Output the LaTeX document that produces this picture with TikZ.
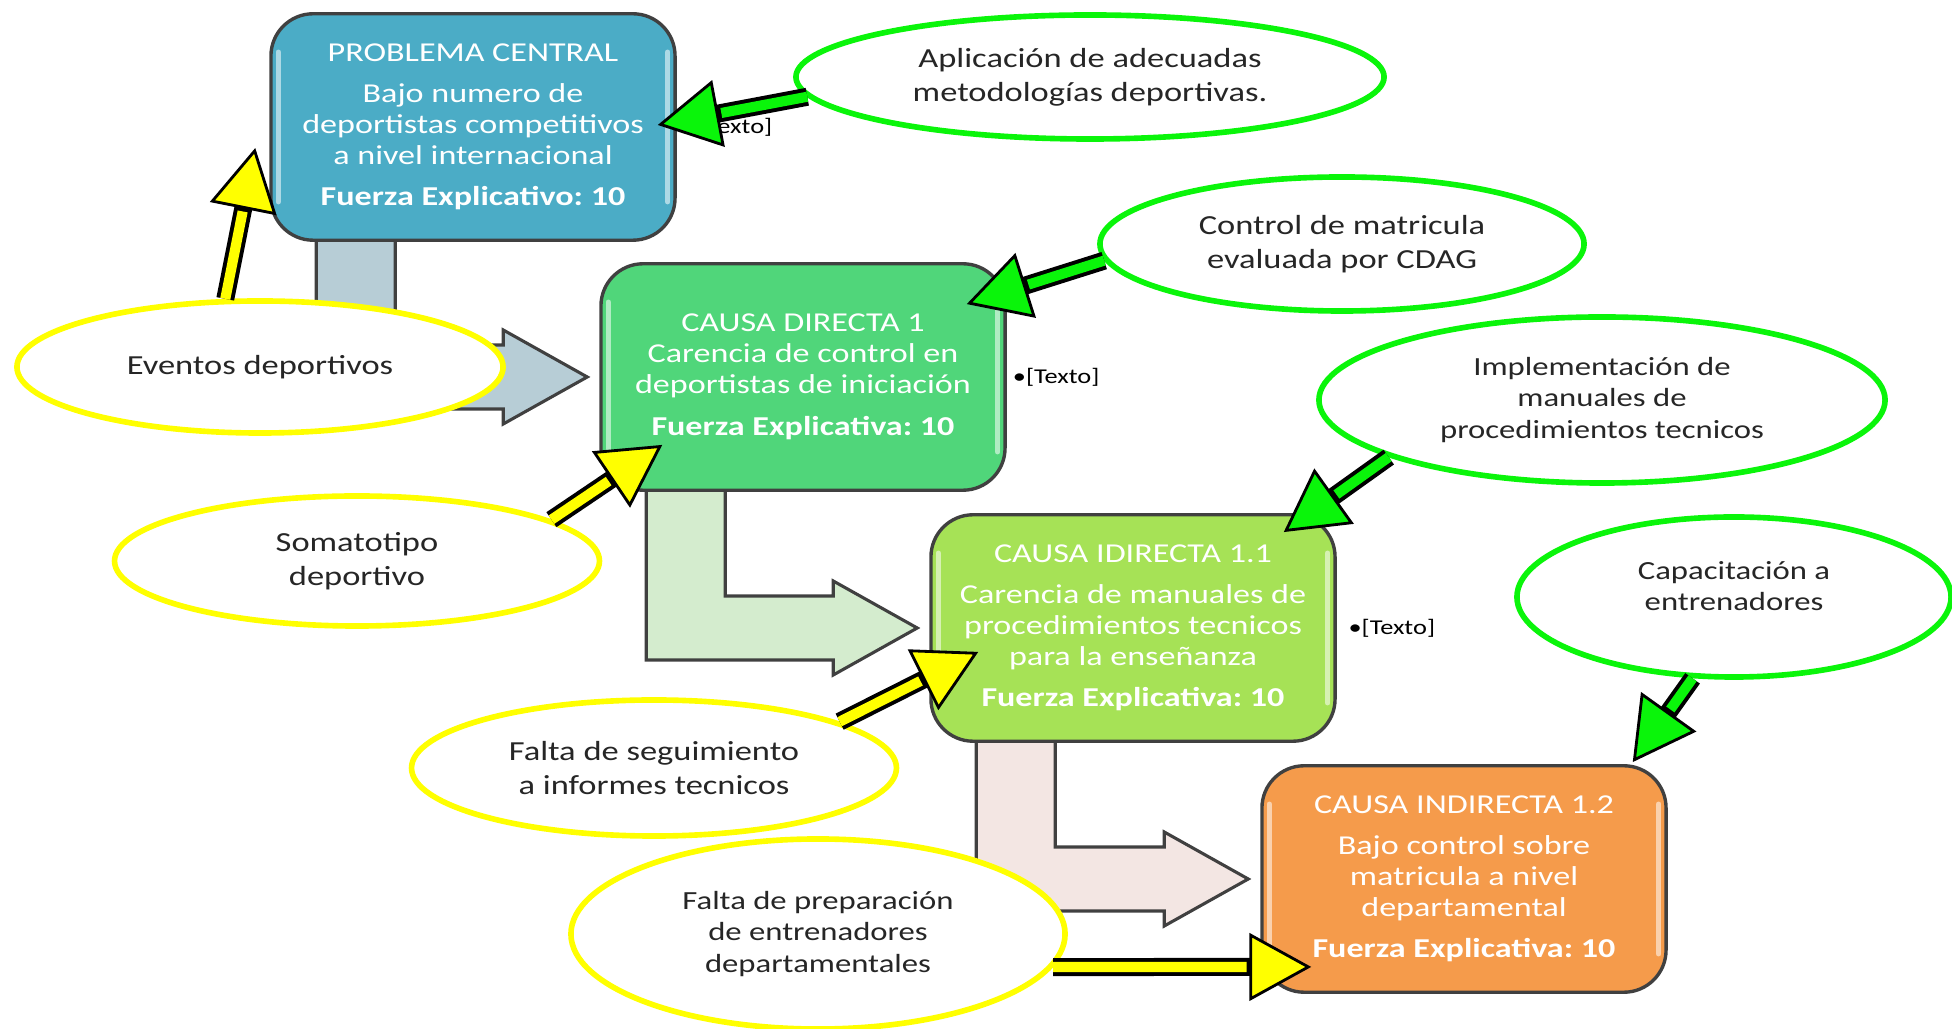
\documentclass[tikz,border=0pt]{standalone}
\usepackage{fontspec}
\setmainfont{Carlito}[FakeStretch=1.25]
\usetikzlibrary{arrows.meta,positioning,calc,shapes.geometric,backgrounds}

\definecolor{problema}{RGB}{75,172,198}
\definecolor{directa}{RGB}{80,214,122}
\definecolor{idirecta}{RGB}{166,226,86}
\definecolor{indirecta}{RGB}{245,155,75}
\definecolor{bloque1}{RGB}{183,205,214}
\definecolor{bloque2}{RGB}{212,236,206}
\definecolor{bloque3}{RGB}{243,230,227}
\definecolor{verde}{RGB}{10,245,10}
\definecolor{amarillo}{RGB}{255,255,0}

\tikzset{
caja/.style={draw=black!75,line width=1.2pt,rounded corners=15pt,text=white,align=center,minimum width=5.05cm,minimum height=2.83cm,inner sep=2pt,font=\fontsize{9.7}{11}\selectfont},
brillo/.style={draw=white,opacity=0.55,line width=1.8pt},
bloque/.style={draw=black!75,line width=1.1pt},
idea/.style={ellipse,draw=#1,line width=2pt,fill=white,text=black!85,align=center,inner sep=0pt,font=\fontsize{9.8}{12}\selectfont},
texto/.style={inner sep=0pt,font=\fontsize{7.5}{9}\selectfont},
flecha/.style={draw=black,line width=6.4pt,line cap=butt,-{Triangle[length=22pt,width=24pt,line width=1pt,fill=#1]},postaction={draw=#1,line width=3.6pt,-,shorten >=23pt}}
}

\begin{document}
\frenchspacing
\begin{tikzpicture}[line cap=round,line join=round,x=0.0125cm,y=-0.0125cm]
\useasboundingbox (0,0) rectangle (1952,1029);
% cajas
\node[caja,fill=problema] (b1) at (473,127) {PROBLEMA CENTRAL\\[3.5pt]Bajo numero de\\deportistas competitivos\\a nivel internacional\\[3.5pt]\textbf{Fuerza Explicativo: 10}};
\node[caja,fill=directa] (b2) at (803,377) {CAUSA DIRECTA 1\\Carencia de control en\\deportistas de iniciación\\[4pt]\textbf{Fuerza Explicativa: 10}};
\node[caja,fill=idirecta] (b3) at (1133,628) {CAUSA IDIRECTA 1.1\\[3.5pt]Carencia de manuales de\\procedimientos tecnicos\\para la enseñanza\\[3.5pt]\textbf{Fuerza Explicativa: 10}};
\node[caja,fill=indirecta] (b4) at (1464,879) {CAUSA INDIRECTA 1.2\\[3.5pt]Bajo control sobre\\matricula a nivel\\departamental\\[3.5pt]\textbf{Fuerza Explicativa: 10}};
\foreach \b in {b1,b2,b3,b4}{
\draw[brillo] ([shift={(9,40)}]\b.north west) -- ([shift={(9,-40)}]\b.south west);
\draw[brillo] ([shift={(-9,40)}]\b.north east) -- ([shift={(-9,-40)}]\b.south east);
}
% flechas de bloque
\begin{scope}[on background layer]
\foreach \a/\b/\c in {b1/b2/bloque1,b2/b3/bloque2,b3/b4/bloque3}{
\coordinate (s) at ($(\a.south west)+(47,-20)$);
\coordinate (t) at ($(\b.west)+(-12,0)$);
\draw[bloque,fill=\c] (s) -- ++(79,0) |- ($(t)+(-84,-32)$) -- ++(0,-15) -- (t) -- ($(t)+(-84,47)$) -- ++(0,-15) -| (s) -- cycle;
}
\end{scope}
\node[texto,right=3pt of b1] (tx1) {•[Texto]};
\node[texto,right=2pt of b2] (tx2) {•[Texto]};
\node[texto,right=4pt of b3] (tx3) {•[Texto]};
% ideas
\node[idea=verde,minimum width=7.35cm,minimum height=1.55cm] (g1) at (1090,77) {Aplicación de adecuadas\\metodologías deportivas.};
\node[idea=verde,minimum width=6.05cm,minimum height=1.675cm] (g2) at (1342,244) {Control de matricula\\evaluada por CDAG};
\node[idea=verde,minimum width=7.075cm,minimum height=2.075cm,font=\fontsize{9.3}{11.2}\selectfont] (g3) at (1602,400) {Implementación de\\manuales de\\procedimientos tecnicos};
\node[idea=verde,minimum width=5.425cm,minimum height=2cm,font=\fontsize{9.3}{11.2}\selectfont] (g4) at (1734,597) {Capacitación a\\entrenadores\\[-3.4pt]};
\node[idea=amarillo,minimum width=6.075cm,minimum height=1.65cm] (y1) at (260,367) {Eventos deportivos};
\node[idea=amarillo,minimum width=6.06cm,minimum height=1.625cm] (y2) at (357,561) {Somatotipo\\deportivo};
\node[idea=amarillo,minimum width=6.06cm,minimum height=1.7cm] (y3) at (654,768) {Falta de seguimiento\\a informes tecnicos};
\node[idea=amarillo,minimum width=6.175cm,minimum height=2.375cm,font=\fontsize{9.3}{11.2}\selectfont] (y4) at (818,934) {Falta de preparación\\de entrenadores\\departamentales};
% conectores
\draw[flecha=verde] (g1.184) -- ([shift={(-19,-2)}]b1.east);
\draw[flecha=verde] (g2.184) -- ([shift={(-40,42)}]b2.north east);
\draw[flecha=verde] (g3.195) -- ([shift={(-53,19)}]b3.north east);
\draw[flecha=verde] (g4.243) -- ([shift={(-35,-2)}]b4.north east);
\draw[flecha=amarillo] (y1.117) -- ([shift={(-14,21)}]b1.west);
\draw[flecha=amarillo] (y2.12) -- ([shift={(63,-47)}]b2.south west);
\draw[flecha=amarillo] (y3.14) -- ([shift={(49,-91)}]b3.south west);
\draw[flecha=amarillo] (y4.352) -- ([shift={(51,-27)}]b4.south west);

\end{tikzpicture}
\end{document}
